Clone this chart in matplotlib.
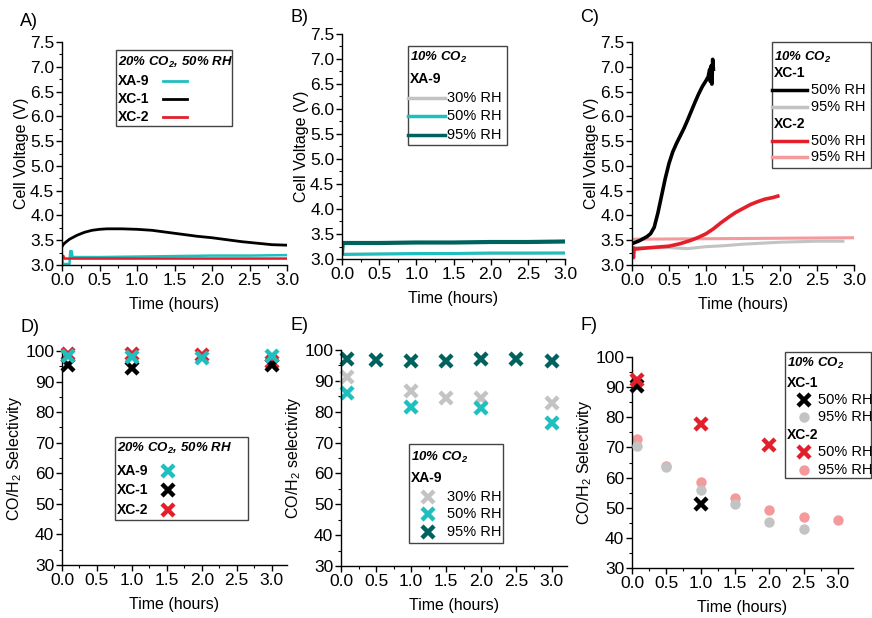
import matplotlib
matplotlib.use("Agg")
import matplotlib.pyplot as plt
from matplotlib.lines import Line2D
from matplotlib.patches import Rectangle
from matplotlib.ticker import MultipleLocator

plt.rcParams['font.family'] = ['Liberation Sans', 'DejaVu Sans']
plt.rcParams['mathtext.default'] = 'regular'

## colours
CYAN = '#1fbfc0'
TEAL = '#00625e'
RED = '#e3202a'
PINK = '#f59a9c'
GRAY = '#c3c3c3'

## ---- A) 20% CO2, 50% RH : cell voltage
a_t_xa9 = [0, 0.01, 0.02, 0.1, 0.11, 0.13, 0.14, 0.2, 0.5, 1.0, 1.5, 2.0, 2.5, 3.0]
a_v_xa9 = [3.2, 3.05, 3.02, 3.02, 3.28, 3.28, 3.16, 3.16, 3.16, 3.17, 3.18, 3.19, 3.19, 3.2]
a_t_xc1 = [0, 0.02, 0.05, 0.1, 0.2, 0.3, 0.4, 0.5, 0.6, 0.7, 0.8, 1.0, 1.2, 1.4,
           1.6, 1.8, 2.0, 2.2, 2.4, 2.6, 2.8, 3.0]
a_v_xc1 = [3.37, 3.42, 3.46, 3.52, 3.6, 3.66, 3.7, 3.72, 3.73, 3.73, 3.73, 3.72, 3.7, 3.66,
           3.62, 3.58, 3.55, 3.51, 3.47, 3.44, 3.41, 3.4]
a_t_xc2 = [0, 0.02, 0.03, 1.0, 2.0, 3.0]
a_v_xc2 = [3.18, 3.18, 3.13, 3.13, 3.13, 3.13]

## ---- B) 10% CO2, XA-9
b_t = [0, 0.5, 1.0, 1.5, 2.0, 2.5, 3.0]
b_v_30 = [3.1, 3.1, 3.1, 3.11, 3.11, 3.11, 3.12]
b_v_50 = [3.09, 3.1, 3.11, 3.11, 3.12, 3.12, 3.12]
b_t_95 = [0, 0.01, 0.5, 1.0, 1.5, 2.0, 2.5, 3.0]
b_v_95 = [3.12, 3.32, 3.32, 3.33, 3.33, 3.34, 3.34, 3.35]

## ---- C) 10% CO2, XC-1 / XC-2
c_t_xc1_50 = [0, 0.05, 0.1, 0.15, 0.2, 0.25, 0.3, 0.35, 0.4, 0.45, 0.5, 0.55, 0.6, 0.65,
              0.7, 0.75, 0.8, 0.85, 0.9, 0.95, 1.0, 1.03, 1.05, 1.06, 1.07, 1.08, 1.09, 1.1]
c_v_xc1_50 = [3.43, 3.46, 3.49, 3.53, 3.57, 3.63, 3.76, 4.05, 4.4, 4.75, 5.05, 5.28, 5.45, 5.6,
              5.75, 5.92, 6.1, 6.28, 6.45, 6.6, 6.72, 6.8, 6.95, 6.7, 7.02, 6.65, 7.15, 6.95]
c_t_xc1_95 = [0, 0.25, 0.5, 0.75, 1.0, 1.25, 1.5, 1.75, 2.0, 2.25, 2.5, 2.85]
c_v_xc1_95 = [3.35, 3.35, 3.35, 3.33, 3.37, 3.39, 3.42, 3.44, 3.46, 3.47, 3.48, 3.48]
c_t_xc2_50 = [0, 0.02, 0.03, 0.04, 0.1, 0.25, 0.5, 0.65, 0.8, 0.9, 1.0, 1.1, 1.2, 1.32,
              1.4, 1.5, 1.6, 1.7, 1.8, 1.9, 1.97]
c_v_xc2_50 = [3.33, 3.15, 3.34, 3.32, 3.33, 3.35, 3.38, 3.43, 3.5, 3.56, 3.63, 3.73, 3.85, 3.98,
              4.06, 4.14, 4.22, 4.28, 4.33, 4.36, 4.39]
c_t_xc2_95 = [0, 1.0, 2.0, 3.0]
c_v_xc2_95 = [3.52, 3.53, 3.54, 3.55]

## ---- D) selectivity, 20% CO2, 50% RH
d_t = [0.08, 1.0, 2.0, 3.0]
d_xa9 = [98.3, 98.0, 97.8, 98.4]
d_t_xc1 = [0.08, 1.0, 3.0]
d_xc1 = [95.3, 94.6, 95.3]
d_xc2 = [99.1, 99.1, 98.6, 96.4]

## ---- E) selectivity, 10% CO2, XA-9
e_t = [0.08, 1.0, 1.5, 2.0, 3.0]
e_30 = [91.4, 86.8, 84.4, 84.4, 82.7]
e_t_50 = [0.08, 1.0, 2.0, 3.0]
e_50 = [86.2, 81.4, 81.1, 76.2]
e_t_95 = [0.08, 0.5, 1.0, 1.5, 2.0, 2.5, 3.0]
e_95 = [97.0, 96.8, 96.4, 96.5, 97.2, 97.1, 96.4]

## ---- F) selectivity, 10% CO2, XC-1 / XC-2
f_t_xc1_50 = [0.08, 1.0]
f_xc1_50 = [90.5, 51.3]
f_t_xc1_95 = [0.08, 0.5, 1.0, 1.5, 2.0, 2.5]
f_xc1_95 = [70.4, 63.5, 56.0, 51.3, 45.2, 42.8]
f_t_xc2_50 = [0.08, 1.0, 2.0]
f_xc2_50 = [92.5, 77.9, 70.7]
f_t_xc2_95 = [0.08, 0.5, 1.0, 1.5, 2.0, 2.5, 3.0]
f_xc2_95 = [72.9, 64.0, 58.5, 53.3, 49.1, 46.9, 45.8]


W, H = 872, 618
fig = plt.figure(figsize=(W / 100, H / 100), dpi=100)


def axes_px(left, top, right, bottom):
    return fig.add_axes([left / W, 1 - bottom / H, (right - left) / W, (bottom - top) / H])


def style(ax, xmax, ylim, ymaj, ymin, ylabel, letter, lx, ly):
    ax.set_xlim(0, xmax)
    ax.set_ylim(*ylim)
    ax.xaxis.set_major_locator(MultipleLocator(0.5))
    ax.xaxis.set_minor_locator(MultipleLocator(0.25))
    ax.yaxis.set_major_locator(MultipleLocator(ymaj))
    ax.yaxis.set_minor_locator(MultipleLocator(ymin))
    ax.xaxis.set_major_formatter(plt.FormatStrFormatter('%.1f'))
    ax.yaxis.set_major_formatter(plt.FormatStrFormatter('%.1f' if ymaj < 1 else '%d'))
    for s in ['top', 'right']:
        ax.spines[s].set_visible(False)
    for s in ['left', 'bottom']:
        ax.spines[s].set_linewidth(1.0)
    ax.tick_params(which='major', direction='out', length=4.5, width=1.0, labelsize=12.5, pad=1)
    ax.tick_params(which='minor', direction='out', length=2.5, width=0.8)
    ax.set_xlabel('Time (hours)', fontsize=11.5, labelpad=7)
    ax.set_ylabel(ylabel, fontsize=11.5, labelpad=1)
    fig.text(lx / W, 1 - ly / H, letter, fontsize=13, ha='left', va='center')


# legend helpers (figure pixel layout)
def key_box(x0, y0, x1, y1):
    fig.add_artist(Rectangle((x0 / W, 1 - y1 / H), (x1 - x0) / W, (y1 - y0) / H,
                             transform=fig.transFigure, fill=False, ec='#444444', lw=1.0))


def key_text(x, y, s, bold=False, italic=False, size=10):
    fig.text(x / W, 1 - y / H, s, fontsize=size, ha='left', va='center',
             fontweight='bold' if bold else 'normal',
             fontstyle='italic' if italic else 'normal')


def key_line(x0, x1, y, color, lw=2.0):
    fig.add_artist(Line2D([x0 / W, x1 / W], [1 - y / H, 1 - y / H],
                          transform=fig.transFigure, color=color, lw=lw))


def key_mark(x, y, marker, color):
    kw = dict(ms=9, mew=3.2) if marker == 'x' else dict(ms=7.5, mew=0)
    fig.add_artist(Line2D([x / W], [1 - y / H], transform=fig.transFigure,
                          marker=marker, color=color, ls='none', **kw))


def xmark(ax, t, v, color, z=2):
    ax.plot(t, v, ls='none', marker='x', ms=9, mew=3.2, color=color, zorder=z, clip_on=False)


def dot(ax, t, v, color, z=2):
    ax.plot(t, v, ls='none', marker='o', ms=7.5, mew=0, color=color, zorder=z, clip_on=False)


## A
ax = axes_px(62, 42, 287, 265)
ax.plot(a_t_xc1, a_v_xc1, color='black', lw=2.0)
ax.plot(a_t_xa9, a_v_xa9, color=CYAN, lw=1.8)
ax.plot(a_t_xc2, a_v_xc2, color=RED, lw=1.8)
style(ax, 3.0, (3.0, 7.5), 0.5, 0.25, 'Cell Voltage (V)', 'A)', 20, 22)
key_box(116, 50, 232, 126)
key_text(118, 62, '20% CO$_2$, 50% RH', bold=True, italic=True, size=9.5)
for y, lab, col in [(81, 'XA-9', CYAN), (99, 'XC-1', 'black'), (117, 'XC-2', RED)]:
    key_text(118, y, lab, bold=True)
    key_line(163, 187, y, col)

## B
ax = axes_px(342, 34, 565, 259)
ax.plot(b_t, b_v_30, color=GRAY, lw=2.0)
ax.plot(b_t, b_v_50, color=CYAN, lw=2.2)
ax.plot(b_t_95, b_v_95, color=TEAL, lw=3.0)
style(ax, 3.0, (3.0, 7.5), 0.5, 0.25, 'Cell Voltage (V)', 'B)', 290, 18)
key_box(408, 46, 507, 145)
key_text(410, 57, '10% CO$_2$', bold=True, italic=True, size=9.5)
key_text(410, 79, 'XA-9', bold=True)
for y, lab, col in [(98, '30% RH', GRAY), (116, '50% RH', CYAN), (135, '95% RH', TEAL)]:
    key_line(408, 445, y, col, lw=2.5)
    key_text(447, y, lab, size=10.5)

## C
ax = axes_px(632, 42, 854, 265)
ax.plot(c_t_xc1_95, c_v_xc1_95, color=GRAY, lw=2.2)
ax.plot(c_t_xc2_95, c_v_xc2_95, color=PINK, lw=2.2)
ax.plot(c_t_xc2_50, c_v_xc2_50, color=RED, lw=2.6)
ax.plot(c_t_xc1_50, c_v_xc1_50, color='black', lw=2.6)
style(ax, 3.0, (3.0, 7.5), 0.5, 0.25, 'Cell Voltage (V)', 'C)', 580, 18)
key_box(772, 42, 871, 168)
key_text(774, 57, '10% CO$_2$', bold=True, italic=True, size=9.5)
key_text(774, 73, 'XC-1', bold=True)
key_text(774, 124, 'XC-2', bold=True)
for y, lab, col in [(90, '50% RH', 'black'), (107, '95% RH', GRAY),
                    (141, '50% RH', RED), (157, '95% RH', PINK)]:
    key_line(772, 807, y, col, lw=2.5)
    key_text(811, y, lab, size=10.5)

## D
ax = axes_px(62, 351, 287, 565)
xmark(ax, d_t, d_xc2, RED, 2)
xmark(ax, d_t_xc1, d_xc1, 'black', 3)
xmark(ax, d_t, d_xa9, CYAN, 4)
style(ax, 3.22, (30, 100), 10, 5, 'CO/H$_2$ Selectivity', 'D)', 20, 328)
key_box(115, 437, 248, 520)
key_text(117, 448, '20% CO$_2$, 50% RH', bold=True, italic=True, size=9.5)
for y, lab, col in [(471, 'XA-9', CYAN), (490, 'XC-1', 'black'), (510, 'XC-2', RED)]:
    key_text(117, y, lab, bold=True)
    key_mark(168, y, 'x', col)

## E
ax = axes_px(341, 350, 567, 566)
xmark(ax, e_t, e_30, GRAY)
xmark(ax, e_t_50, e_50, CYAN)
xmark(ax, e_t_95, e_95, TEAL)
style(ax, 3.22, (30, 100), 10, 5, 'CO/H$_2$ selectivity', 'E)', 290, 325)
key_box(409, 444, 503, 543)
key_text(411, 457, '10% CO$_2$', bold=True, italic=True, size=9.5)
key_text(411, 478, 'XA-9', bold=True)
for y, lab, col in [(497, '30% RH', GRAY), (514, '50% RH', CYAN), (532, '95% RH', TEAL)]:
    key_mark(428, y, 'x', col)
    key_text(447, y, lab, size=10.5)

## F
ax = axes_px(632, 357, 853, 568)
dot(ax, f_t_xc2_95, f_xc2_95, PINK, 2)
dot(ax, f_t_xc1_95, f_xc1_95, GRAY, 3)
xmark(ax, f_t_xc1_50, f_xc1_50, 'black', 4)
xmark(ax, f_t_xc2_50, f_xc2_50, RED, 5)
style(ax, 3.22, (30, 100), 10, 5, 'CO/H$_2$ Selectivity', 'F)', 580, 325)
key_box(785, 352, 871, 478)
key_text(787, 363, '10% CO$_2$', bold=True, italic=True, size=9.5)
key_text(787, 383, 'XC-1', bold=True)
key_text(787, 435, 'XC-2', bold=True)
for y, lab, col, m in [(400, '50% RH', 'black', 'x'), (417, '95% RH', GRAY, 'o'),
                       (452, '50% RH', RED, 'x'), (470, '95% RH', PINK, 'o')]:
    key_mark(804, y, m, col)
    key_text(818, y, lab, size=10.5)

fig.savefig('out.png', dpi=100)
